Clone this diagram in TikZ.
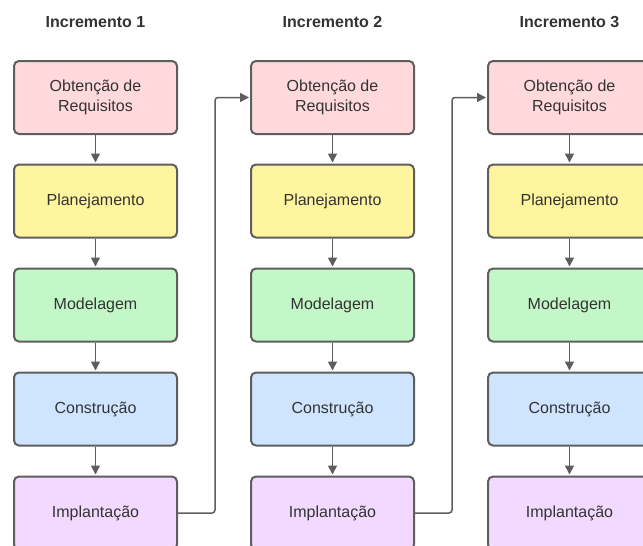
\documentclass[tikz,border=0pt]{standalone}
\usepackage{fontspec}
\setmainfont{Liberation Sans}
\usetikzlibrary{arrows.meta}

\definecolor{linegray}{HTML}{5E5E5E}
\definecolor{textgray}{HTML}{333333}
\definecolor{rosa}{HTML}{FFD9DB}
\definecolor{amarelo}{HTML}{FFF59F}
\definecolor{verde}{HTML}{C3F7C8}
\definecolor{azul}{HTML}{CFE4FF}
\definecolor{lilas}{HTML}{F2D9FF}

\begin{document}
\begin{tikzpicture}[x=1pt,y=-1pt,
    etapa/.style={draw=linegray, line width=2pt, rounded corners=5pt,
        minimum width=163pt, minimum height=73pt, align=center,
        text=textgray, font=\fontsize{16}{20}\selectfont},
    titulo/.style={text=textgray, font=\fontsize{16}{20}\selectfont\bfseries},
    seta/.style={draw=linegray, line width=1.5pt, shorten >=1pt,
        -{Triangle[length=9pt,width=9pt]}}]
        \useasboundingbox (0,0) rectangle (643,546);

        % Draw the three increments
        \foreach \c/\x in {1/95.5,2/332.5,3/569.5} {
            \node[titulo] (t\c) at (\x,22) {Incremento \c};
            \foreach \r/\y/\cor/\nome in {1/97.5/rosa/{Obtenção de\\Requisitos},
                    2/201/amarelo/{Planejamento}, 3/305/verde/{Modelagem},
                    4/409/azul/{Construção}, 5/513/lilas/{Implantação}} {
                \node[etapa, fill=\cor] (b\c-\r) at (\x,\y) {\nome};
            }
            % Arrows inside the increment
            \foreach \r/\s in {1/2,2/3,3/4,4/5} {
                \draw[seta] (b\c-\r.south) -- (b\c-\s.north);
            }
        }

        % Connect the increments
        \draw[seta, rounded corners=3pt] (b1-5.east) -- ++(37,0) |- (b2-1.west);
        \draw[seta, rounded corners=3pt] (b2-5.east) -- ++(37,0) |- (b3-1.west);
    \end{tikzpicture}
\end{document}
